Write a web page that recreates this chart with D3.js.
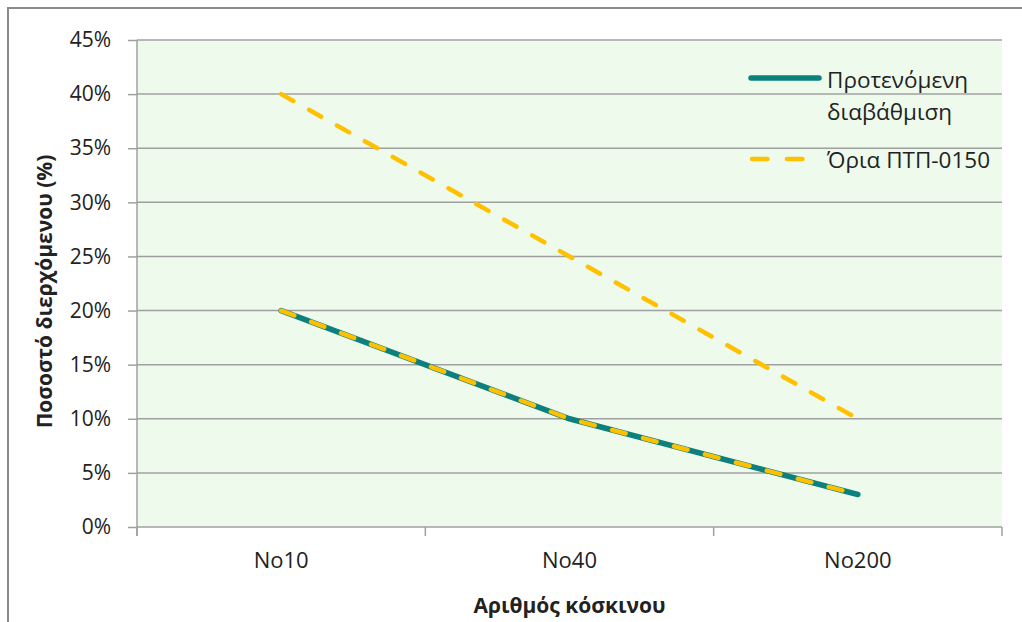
<!DOCTYPE html>
<html>
<head>
<meta charset="utf-8">
<script src="https://cdn.jsdelivr.net/npm/d3@7"></script>
<style>
  body { margin: 0; background: #fff; }
  text { font-family: "Open Sans", "Noto Sans", sans-serif; fill: #222; }
</style>
</head>
<body>
<div class="chart"></div>
<script>
// data
const sieves = ["No10", "No40", "No200"];
const proposed = [0.20, 0.10, 0.03];
const limitLow = [0.20, 0.10, 0.03];
const limitHigh = [0.40, 0.25, 0.10];
const yTicks = [0, 0.05, 0.10, 0.15, 0.20, 0.25, 0.30, 0.35, 0.40, 0.45];

const svgWidth = 1022;
const svgHeight = 622;

const plot = { left: 137, right: 1002, top: 40, bottom: 527 };

const svg = d3.select(".chart")
    .append("svg")
    .attr("width", svgWidth)
    .attr("height", svgHeight);

// outer frame
svg.append("rect")
    .attr("x", 8).attr("y", 8)
    .attr("width", 1030).attr("height", 640)
    .attr("fill", "none")
    .attr("stroke", "#8a8a8a")
    .attr("stroke-width", 2);

// plot background
svg.append("rect")
    .attr("x", plot.left).attr("y", plot.top)
    .attr("width", plot.right - plot.left)
    .attr("height", plot.bottom - plot.top)
    .attr("fill", "#edfaec");

const x = d3.scaleBand()
    .domain(sieves)
    .range([plot.left, plot.right]);

const y = d3.scaleLinear()
    .domain([0, 0.45])
    .range([plot.bottom, plot.top]);

// y axis with gridlines
const yAxis = d3.axisLeft(y)
    .tickValues(yTicks)
    .tickFormat(d3.format(".0%"))
    .tickSize(9)
    .tickPadding(17);

const yG = svg.append("g")
    .attr("transform", `translate(${plot.left}, 0)`)
    .call(yAxis);
yG.select(".domain").attr("stroke", "#a0a0a0").attr("stroke-width", 1.5)
    .attr("d", `M0,${plot.top}V${plot.bottom + 9}`);
yG.selectAll(".tick line").attr("stroke", "#a0a0a0").attr("stroke-width", 1.5);
yG.selectAll(".tick text").attr("font-size", "21px").attr("fill", "#222");

svg.append("g").selectAll("line")
    .data(yTicks)
    .enter()
    .append("line")
    .attr("x1", plot.left).attr("x2", plot.right)
    .attr("y1", d => y(d)).attr("y2", d => y(d))
    .attr("stroke", "#a0a0a0")
    .attr("stroke-width", 1.5);

// x axis
const xAxis = d3.axisBottom(x)
    .tickSize(0)
    .tickPadding(25);
const xG = svg.append("g")
    .attr("transform", `translate(0, ${plot.bottom})`)
    .call(xAxis);
xG.select(".domain").remove();
xG.selectAll(".tick text").attr("font-size", "22px").attr("fill", "#222");

const bounds = sieves.map(s => x(s)).concat([plot.right]);
svg.append("g").selectAll("line")
    .data(bounds)
    .enter()
    .append("line")
    .attr("x1", d => d).attr("x2", d => d)
    .attr("y1", plot.bottom).attr("y2", plot.bottom + 9)
    .attr("stroke", "#a0a0a0")
    .attr("stroke-width", 1.5);

// lines
const line = d3.line()
    .x((d, i) => x(sieves[i]) + x.bandwidth() / 2)
    .y(d => y(d));

svg.append("path")
    .datum(proposed)
    .attr("d", line)
    .attr("fill", "none")
    .attr("stroke", "#0b807c")
    .attr("stroke-width", 5.5)
    .attr("stroke-linecap", "round");

[limitLow, limitHigh].forEach(function (series) {
    svg.append("path")
        .datum(series)
        .attr("d", line)
        .attr("fill", "none")
        .attr("stroke", "#ffc000")
        .attr("stroke-width", 4.5)
        .attr("stroke-linecap", "round")
        .attr("stroke-dasharray", "14,18");
});

// axis titles
svg.append("text")
    .attr("transform", `translate(52, ${(plot.top + plot.bottom) / 2 + 8}) rotate(-90)`)
    .attr("text-anchor", "middle")
    .attr("font-size", "21px")
    .attr("font-weight", "bold")
    .attr("fill", "#111")
    .text("Ποσοστό διερχόμενου (%)");

svg.append("text")
    .attr("x", (plot.left + plot.right) / 2)
    .attr("y", 613)
    .attr("text-anchor", "middle")
    .attr("font-size", "21px")
    .attr("font-weight", "bold")
    .attr("fill", "#111")
    .text("Αριθμός κόσκινου");

// legend
const legend = svg.append("g");
legend.append("line")
    .attr("x1", 751).attr("x2", 819)
    .attr("y1", 78).attr("y2", 78)
    .attr("stroke", "#0b807c")
    .attr("stroke-width", 5.5)
    .attr("stroke-linecap", "round");
legend.append("text")
    .attr("x", 827).attr("y", 88)
    .attr("font-size", "22.5px")
    .text("Προτενόμενη");
legend.append("text")
    .attr("x", 827).attr("y", 120)
    .attr("font-size", "22.5px")
    .text("διαβάθμιση");
legend.append("line")
    .attr("x1", 752).attr("x2", 803)
    .attr("y1", 159).attr("y2", 159)
    .attr("stroke", "#ffc000")
    .attr("stroke-width", 4.5)
    .attr("stroke-linecap", "round")
    .attr("stroke-dasharray", "15.5,19.5");
legend.append("text")
    .attr("x", 827).attr("y", 168)
    .attr("font-size", "22.5px")
    .text("Όρια ΠΤΠ-0150");
</script>
</body>
</html>
